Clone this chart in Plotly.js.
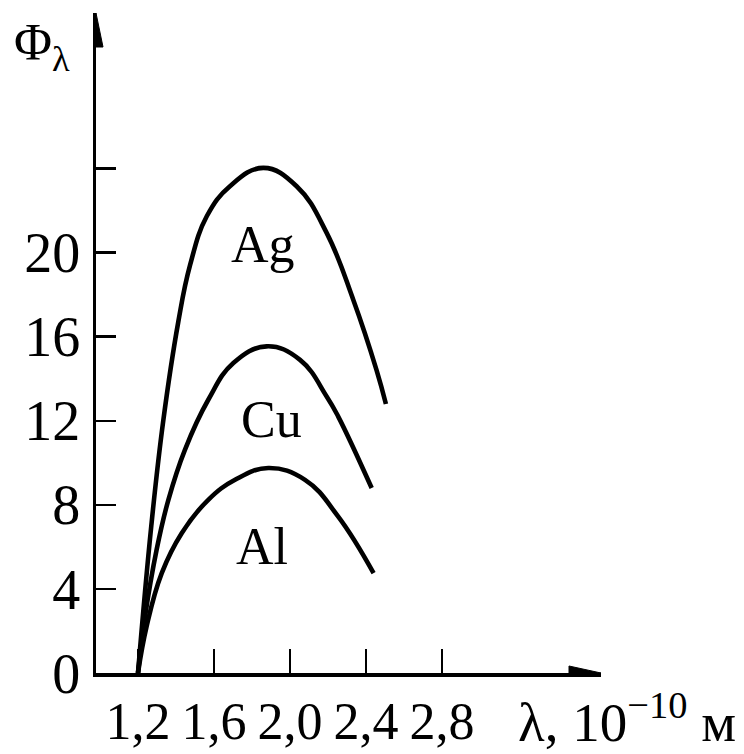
<!DOCTYPE html>
<html>
<head>
<meta charset="utf-8">
<script src="https://cdn.plot.ly/plotly-3.0.1.min.js"></script>
<style>html,body{margin:0;padding:0;background:#fff;}#chart{width:744px;height:754px;}</style>
</head>
<body>
<div id="chart"></div>
<script>
// ---- data ----
const agX = [1.2, 1.27, 1.333, 1.412, 1.474, 1.562, 1.684, 1.86, 2.035, 2.193, 2.333, 2.456, 2.505];
const agY = [0, 7.0, 12.0, 16.7, 19.4, 21.73, 23.16, 24.03, 23.16, 20.94, 17.76, 14.4, 12.8];
const cuX = [1.2, 1.237, 1.298, 1.36, 1.447, 1.57, 1.702, 1.877, 2.053, 2.193, 2.254, 2.43];
const cuY = [0, 2.68, 5.86, 8.24, 10.62, 13.0, 14.75, 15.54, 14.9, 13.16, 12.2, 8.8];
const alX = [1.2, 1.245, 1.325, 1.43, 1.57, 1.711, 1.886, 2.079, 2.254, 2.44];
const alY = [0, 2.2, 4.75, 6.65, 8.24, 9.19, 9.75, 9.19, 7.44, 4.75];
const curveNames = ['Ag', 'Cu', 'Al'];
const labelX = [1.86, 1.904, 1.851];
const labelY = [20.4, 12.05, 6.0];
const xTickVals = [1.2, 1.6, 2.0, 2.4, 2.8];
const xTickText = ['1,2', '1,6', '2,0', '2,4', '2,8'];
const yTickVals = [0, 4, 8, 12, 16, 20, 24];
const yTickText = ['0', '4', '8', '12', '16', '20', ''];
const xTitle = 'λ, 10<sup>−10</sup> м';
const yTitle = 'Φ<sub>λ</sub>';

// ---- layout geometry ----
const W = 744, H = 754;
const M = {l: 96, r: 143, t: 13, b: 81};
const xRange = [0.979, 3.637];
const yRange = [0, 31.4];
const pw = W - M.l - M.r, ph = H - M.t - M.b;
const px2paperX = p => (p - M.l) / pw;
const px2paperY = p => (H - M.b - p) / ph;
const FONT = 'Liberation Serif, Times New Roman, serif';

const line = {color: '#000', width: 4.6, shape: 'spline', smoothing: 1.2};
const traces = [[agX, agY], [cuX, cuY], [alX, alY]].map((d, i) => ({
  type: 'scatter', mode: 'lines', x: d[0], y: d[1], name: curveNames[i],
  line: line, hoverinfo: 'skip'
}));

const annotations = curveNames.map((n, i) => ({
  x: labelX[i], y: labelY[i], xref: 'x', yref: 'y', text: n, showarrow: false,
  font: {family: FONT, size: 52, color: '#000'}
}));
annotations.push({
  xref: 'paper', yref: 'paper', x: px2paperX(516), y: px2paperY(718),
  xanchor: 'left', yanchor: 'middle', text: xTitle, showarrow: false,
  font: {family: FONT, size: 55, color: '#000'}
});
annotations.push({
  xref: 'paper', yref: 'paper', x: px2paperX(12), y: px2paperY(46),
  xanchor: 'left', yanchor: 'middle', text: yTitle, showarrow: false,
  font: {family: FONT, size: 52, color: '#000'}
});

const shapes = [
  { // y axis arrowhead
    type: 'path', xref: 'x', yref: 'y', xsizemode: 'pixel', ysizemode: 'pixel',
    xanchor: xRange[0], yanchor: yRange[1],
    path: 'M0,0 L-7,-34 L7,-34 Z', fillcolor: '#000', line: {color: '#000', width: 1}
  },
  { // x axis arrowhead
    type: 'path', xref: 'x', yref: 'y', xsizemode: 'pixel', ysizemode: 'pixel',
    xanchor: xRange[1], yanchor: yRange[0],
    path: 'M0,0 L-32,7 L-32,-7 Z', fillcolor: '#000', line: {color: '#000', width: 1}
  }
];

const layout = {
  width: W, height: H, margin: M, showlegend: false,
  paper_bgcolor: '#fff', plot_bgcolor: '#fff',
  xaxis: {
    range: xRange, showgrid: false, zeroline: false, showline: true,
    linecolor: '#000', linewidth: 3.5, ticks: 'inside', ticklen: 24, tickwidth: 2.5,
    tickcolor: '#000', tickvals: xTickVals, ticktext: xTickText,
    tickfont: {family: FONT, size: 52, color: '#000'}, ticklabelstandoff: 0
  },
  yaxis: {
    range: yRange, showgrid: false, zeroline: false, showline: true,
    linecolor: '#000', linewidth: 3.5, ticks: 'inside', ticklen: 20, tickwidth: 2.5,
    tickcolor: '#000', tickvals: yTickVals, ticktext: yTickText,
    tickfont: {family: FONT, size: 56, color: '#000'}, ticklabelstandoff: 1
  },
  annotations: annotations, shapes: shapes
};

Plotly.newPlot('chart', traces, layout, {staticPlot: true, displayModeBar: false});
</script>
</body>
</html>
